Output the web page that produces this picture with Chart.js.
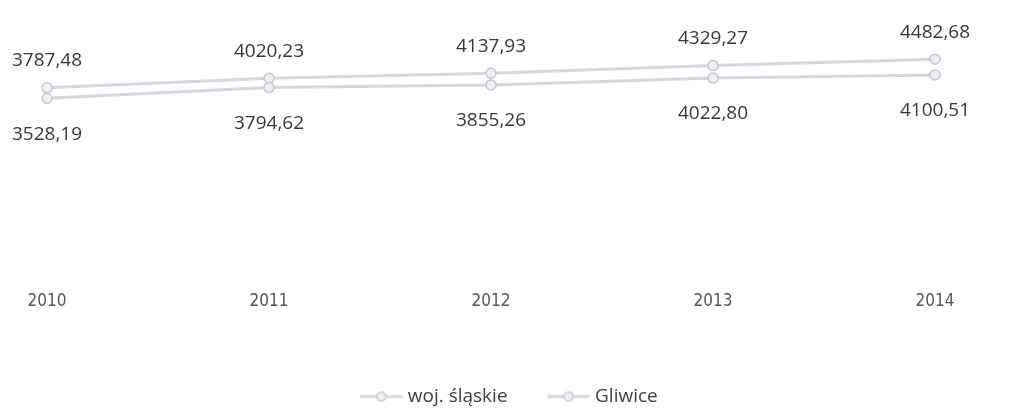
<!DOCTYPE html>
<html>
<head>
<meta charset="utf-8">
<script src="https://cdn.jsdelivr.net/npm/chart.js@4"></script>
<style>
  html, body { margin: 0; padding: 0; background: #fff; }
  #wrap { width: 1016px; height: 408px; }
</style>
</head>
<body>
<div id="wrap"><canvas id="myChart" width="1016" height="408"></canvas></div>
<script>
// Data
const years = ['2010', '2011', '2012', '2013', '2014'];
const slaskie = [3528.19, 3794.62, 3855.26, 4022.80, 4100.51];
const gliwice = [3787.48, 4020.23, 4137.93, 4329.27, 4482.68];
const seriesNames = ['woj. śląskie', 'Gliwice'];

const lineColor = '#d6d6e0';

// legend marker: short line with a circle; the canvas is wider than the box
// so that the drawn part sits close to the text and items are spaced apart
function makeMarker() {
    const c = document.createElement('canvas');
    c.width = 160;
    c.height = 12;
    const g = c.getContext('2d');
    g.strokeStyle = lineColor;
    g.lineWidth = 3;
    g.beginPath();
    g.moveTo(79, 6);
    g.lineTo(121, 6);
    g.stroke();
    g.fillStyle = '#eeeef3';
    g.lineWidth = 1.5;
    g.strokeStyle = '#c8c8d4';
    g.beginPath();
    g.arc(100, 6, 4.5, 0, Math.PI * 2);
    g.fill();
    g.stroke();
    return c;
}
const marker = makeMarker();

// value labels: Gliwice above its points, śląskie below
const valueLabels = {
    id: 'valueLabels',
    afterDatasetsDraw(chart) {
        const ctx = chart.ctx;
        ctx.save();
        ctx.font = '19px "Open Sans", sans-serif';
        ctx.fillStyle = '#383838';
        ctx.textAlign = 'center';
        ctx.textBaseline = 'middle';
        chart.data.datasets.forEach((ds, i) => {
            const meta = chart.getDatasetMeta(i);
            meta.data.forEach((pt, j) => {
                const txt = ds.data[j].toFixed(2).replace('.', ',');
                const dy = i === 1 ? -27 : 36;
                ctx.fillText(txt, pt.x, pt.y + dy);
            });
        });
        ctx.restore();
    }
};

const ctx = document.getElementById('myChart').getContext('2d');
const chart = new Chart(ctx, {
    type: 'line',
    data: {
        labels: years,
        datasets: [{
            label: seriesNames[0],
            data: slaskie,
            borderColor: lineColor,
            borderWidth: 3,
            pointRadius: 5,
            pointBackgroundColor: '#eeeef3',
            pointBorderColor: '#c8c8d4',
            pointBorderWidth: 1.5
        }, {
            label: seriesNames[1],
            data: gliwice,
            borderColor: lineColor,
            borderWidth: 3,
            pointRadius: 5,
            pointBackgroundColor: '#eeeef3',
            pointBorderColor: '#c8c8d4',
            pointBorderWidth: 1.5
        }]
    },
    options: {
        responsive: false,
        animation: false,
        layout: {
            padding: { left: 47, right: 81, top: 38, bottom: -8 }
        },
        plugins: {
            tooltip: { enabled: false },
            legend: {
                position: 'bottom',
                labels: {
                    usePointStyle: true,
                    pointStyleWidth: 74,
                    padding: 4,
                    color: '#404040',
                    font: { family: '"Open Sans", sans-serif', size: 19 },
                    generateLabels(chart) {
                        const items = Chart.defaults.plugins.legend.labels.generateLabels(chart);
                        items.forEach(it => { it.pointStyle = marker; });
                        return items;
                    }
                }
            }
        },
        scales: {
            x: {
                offset: false,
                grid: { display: false, drawTicks: false },
                border: { display: false },
                ticks: {
                    padding: 48,
                    color: '#555',
                    maxRotation: 0,
                    font: { family: '"Liberation Sans Narrow", "DejaVu Sans Condensed", sans-serif', size: 17 }
                },
                afterFit(scale) {
                    scale.height = 140;
                    scale.paddingLeft = 0;
                    scale.paddingRight = 0;
                }
            },
            y: {
                display: false,
                min: 0,
                max: 5000
            }
        }
    },
    plugins: [valueLabels]
});
</script>
</body>
</html>
